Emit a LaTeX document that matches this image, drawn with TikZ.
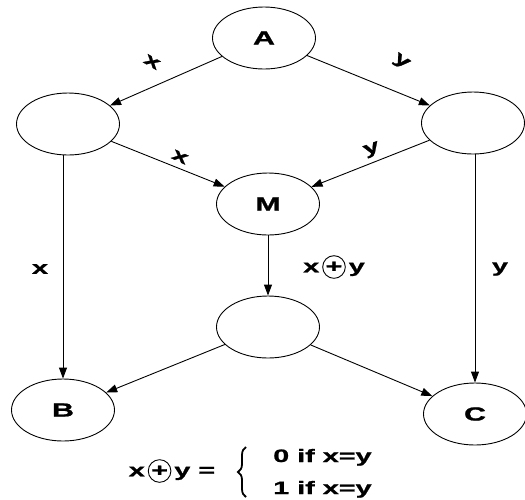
\documentclass[tikz,border=0pt]{standalone}
\usepackage{fontspec}
\setmainfont{Liberation Sans}[FakeStretch=1.6,BoldFeatures={FakeBold=1.2}]
\usetikzlibrary{shapes.geometric,arrows.meta,decorations.pathreplacing}
\newcommand{\xorsym}{\tikz[baseline=(o.base)]\node[circle,draw,line width=0.9pt,inner sep=1pt,minimum size=20pt,font=\fontsize{18}{18}\selectfont\bfseries](o){+};}
\begin{document}
\begin{tikzpicture}[x=1pt,y=-1pt,
  st/.style={ellipse,draw,line width=0.9pt,minimum width=103pt,minimum height=62pt,inner sep=0pt,font=\fontsize{19}{22}\selectfont\bfseries},
  arr/.style={draw,line width=0.9pt,-{Triangle[length=11pt,width=8pt]}},
  lab/.style={font=\fontsize{18}{22}\selectfont\bfseries,inner sep=1pt}]
\useasboundingbox (0,0) rectangle (525,499);
\node[st] (A) at (264,38) {A};
\node[st] (L) at (68,124) {};
\node[st] (R) at (473,123) {};
\node[st] (M) at (268,204) {M};
\node[st] (D) at (268,327) {};
\node[st] (B) at (63,410) {B};
\node[st] (C) at (475,414) {C};
\draw[arr] (A) -- (L);
\draw[arr] (A) -- (R);
\draw[arr] (L) -- (M);
\draw[arr] (R) -- (M);
\draw[arr] (L.south -| B.north) -- (B.north);
\draw[arr] (R.south -| C.north) -- (C.north);
\draw[arr] (M) -- (D);
\draw[arr] (D) -- (B);
\draw[arr] (D) -- (C);
\node[lab,rotate=-30] (l1) at (152,62) {x};
\node[lab,rotate=-35] (l2) at (401,62) {y};
\node[lab,rotate=-25] (l3) at (180,157) {x};
\node[lab,rotate=20] (l4) at (372,150) {y};
\node[lab] (l5) at (40,269) {x};
\node[lab] (l6) at (334,267) {x\,\xorsym\,y};
\node[lab] (l7) at (500,269) {y};
\node[lab] (f1) at (172,471) {x\,\xorsym\,y =};
\coordinate (b1) at (246,497);
\coordinate (b2) at (246,447);
\draw[decorate,decoration={brace,amplitude=8pt},line width=1.8pt] (b1) -- (b2);
\node[lab,anchor=base west] (f2) at (272,462) {0 if x=y};
\node[lab,anchor=base west] (f3) at (272,494) {1 if x=y};
\end{tikzpicture}
\end{document}
